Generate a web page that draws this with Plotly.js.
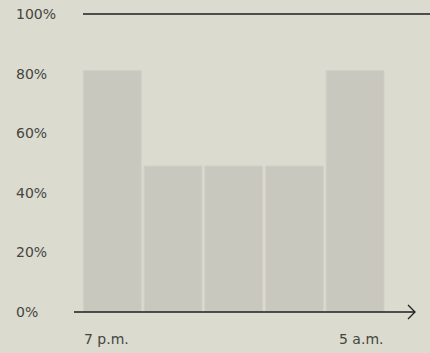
<!DOCTYPE html>
<html>
<head>
<meta charset="utf-8">
<script src="https://cdn.plot.ly/plotly-3.0.1.min.js"></script>
<style>html,body{margin:0;padding:0;background:#dbdbd0;}#chart{width:430px;height:353px;}</style>
</head>
<body>
<div id="chart"></div>
<script>
var categories = [0, 1, 2, 3, 4];
var values = [81, 49, 49, 49, 81];
var yTickVals = [0, 20, 40, 60, 80, 100];
var yTickText = ["0%", "20%", "40%", "60%", "80%", "100%"];
var xStartLabel = "7 p.m.";
var xEndLabel = "5 a.m.";

var W = 430, H = 353;
var plotL = 82, plotR = 385.4, plotT = 13.5, plotB = 312;
function px(x) { return x / W; }
var ph = plotB - plotT;
function py(y) { return (plotB - y) / ph; }

var labelFont = { family: 'DejaVu Sans', size: 14, color: '#45453f' };

var trace = {
  type: 'bar',
  x: categories,
  y: values,
  marker: { color: '#c9c8bf', line: { color: '#d1d0c6', width: 1 } },
  hoverinfo: 'none'
};

var layout = {
  width: W, height: H,
  margin: { l: 0, r: 0, t: plotT, b: H - plotB, pad: 0 },
  paper_bgcolor: '#dbdbd0',
  plot_bgcolor: '#dbdbd0',
  bargap: 0.045,
  showlegend: false,
  font: labelFont,
  xaxis: {
    domain: [plotL / W, plotR / W],
    range: [-0.5, 4.5], showgrid: false, zeroline: false, showline: false,
    showticklabels: false, ticks: '', fixedrange: true
  },
  yaxis: {
    range: [0, 100], showgrid: false, zeroline: false, showline: false,
    tickvals: yTickVals, ticktext: yTickText, ticks: '',
    side: 'right', anchor: 'free', position: 15 / W,
    fixedrange: true,
    tickfont: labelFont
  },
  shapes: [
    { type: 'line', xref: 'paper', yref: 'paper', x0: px(83), x1: px(431), y0: 1, y1: 1,
      line: { color: '#1e1e1e', width: 1.5 } },
    { type: 'line', xref: 'paper', yref: 'paper', x0: px(74), x1: px(415), y0: 0, y1: 0,
      line: { color: '#1e1e1e', width: 1.5 } },
    { type: 'path', xref: 'paper', yref: 'paper',
      path: 'M ' + px(408) + ' ' + py(305) + ' L ' + px(415) + ' ' + py(312) + ' L ' + px(408) + ' ' + py(319),
      line: { color: '#1e1e1e', width: 1.3 } }
  ],
  annotations: [
    { x: -0.5, xref: 'x', y: py(339), yref: 'paper', text: xStartLabel, showarrow: false,
      xanchor: 'left', yanchor: 'middle', font: labelFont },
    { x: 4.5, xref: 'x', y: py(339), yref: 'paper', text: xEndLabel, showarrow: false,
      xanchor: 'right', yanchor: 'middle', font: labelFont }
  ]
};

Plotly.newPlot('chart', [trace], layout, { staticPlot: true, displayModeBar: false });
</script>
</body>
</html>
